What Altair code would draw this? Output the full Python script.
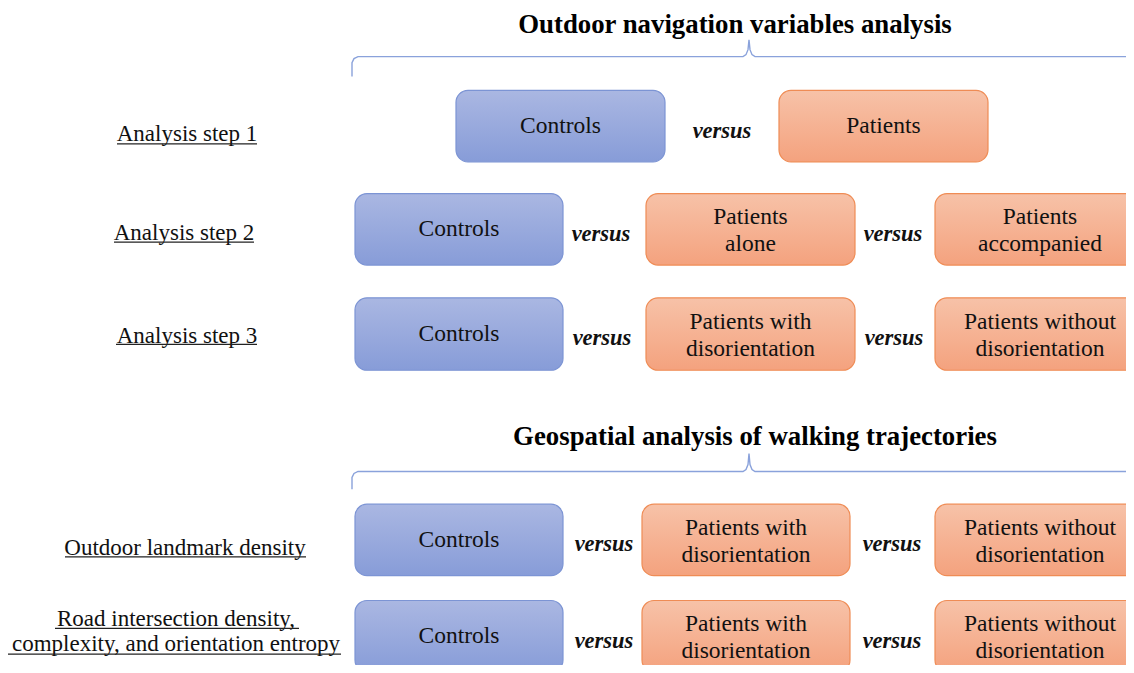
import altair as alt
import pandas as pd

# ---------------- content ----------------
section_titles = ["Outdoor navigation variables analysis",
                  "Geospatial analysis of walking trajectories"]
row_labels = ["Analysis step 1", "Analysis step 2", "Analysis step 3",
              "Outdoor landmark density",
              "Road intersection density,\ncomplexity, and orientation entropy"]
row_groups = [
    ["Controls", "Patients"],
    ["Controls", "Patients\nalone", "Patients\naccompanied"],
    ["Controls", "Patients with\ndisorientation", "Patients without\ndisorientation"],
    ["Controls", "Patients with\ndisorientation", "Patients without\ndisorientation"],
    ["Controls", "Patients with\ndisorientation", "Patients without\ndisorientation"],
]
connector = "versus"

# ---------------- layout (pixel grid of the figure) ----------------
title_pos = [(735, 25), (755, 440)]
brace_y = [57, 475]
brace_drop = [77, 493]
brace_tip = [40, 457]
brace_x = (352, 749, 1140)

row_box_y = [(91, 163), (195, 267), (300, 373), (508, 580), (605, 677)]
row_cols = [
    [(456, 665), (779, 988)],
    [(355, 563), (646, 855), (935, 1145)],
    [(355, 563), (646, 855), (935, 1145)],
    [(355, 563), (642, 850), (935, 1145)],
    [(355, 563), (642, 850), (935, 1145)],
]
row_versus_x = [[722], [601, 893], [602, 894], [604, 892], [604, 892]]
row_label_pos = [(187, 135), (184, 235), (187, 338), (185, 552), (176, 636.5)]
underlines = [(117, 257, 145), (114, 254, 244), (116, 257, 347),
              (65, 306, 561), (55, 299, 633), (8, 341, 659)]
BOX_LH = 27.5
LABEL_LH = 25

# ---------------- tables ----------------
boxes, box_lines = [], []
for r, (labels, cols, (y0, y1)) in enumerate(zip(row_groups, row_cols, row_box_y)):
    for c, (lab, (x0, x1)) in enumerate(zip(labels, cols)):
        xc, yc = (x0 + x1) / 2, (y0 + y1) / 2
        boxes.append(dict(row=r, col=c, x0=x0, x1=x1, y0=y0, y1=y1,
                          kind="control" if lab == "Controls" else "patient"))
        parts = lab.split("\n")
        n = len(parts)
        for i, p in enumerate(parts):
            box_lines.append(dict(x=xc, y=yc + (i - (n - 1) / 2) * BOX_LH + (1.5 if n > 1 else 0), text=p))
boxes = pd.DataFrame(boxes)
box_lines = pd.DataFrame(box_lines)

versus = []
for r, xs in enumerate(row_versus_x):
    y0, y1 = row_box_y[r]
    for x in xs:
        versus.append(dict(x=x, y=(y0 + y1) / 2 + 4.5, text=connector))
versus = pd.DataFrame(versus)

label_lines = []
for t, (x, y) in zip(row_labels, row_label_pos):
    parts = t.split("\n")
    n = len(parts)
    for i, p in enumerate(parts):
        label_lines.append(dict(x=x, y=y + (i - (n - 1) / 2) * LABEL_LH, text=p))
labels_df = pd.DataFrame(label_lines)
ul_df = pd.DataFrame([dict(x=a, x2=b, y=y) for a, b, y in underlines])
titles_df = pd.DataFrame([dict(x=p[0], y=p[1], text=t) for t, p in zip(section_titles, title_pos)])

brace_pts = []
for i in range(2):
    yh, yd, yt = brace_y[i], brace_drop[i], brace_tip[i]
    xl, xm, xr = brace_x
    pts = [(xl, yd), (xl, yh + 6), (xl + 2, yh + 2), (xl + 6, yh),
           (xm - 6, yh), (xm - 3, yh - 2), (xm - 1, yh - 7), (xm, yt),
           (xm + 1, yh - 7), (xm + 3, yh - 2), (xm + 6, yh), (xr, yh)]
    for k, (x, y) in enumerate(pts):
        brace_pts.append(dict(b=i, o=k, x=x, y=y))
brace_df = pd.DataFrame(brace_pts)

# ---------------- scales ----------------
W, H = 1118, 657
XS = alt.Scale(domain=[8, 8 + W], nice=False, zero=False)
YS = alt.Scale(domain=[8, 670], nice=False, zero=False, reverse=True)
FONT = "Liberation Serif"
TXT = "#111111"


def grad(top, bottom):
    return alt.Gradient(gradient="linear",
                        stops=[alt.GradientStop(color=top, offset=0),
                               alt.GradientStop(color=bottom, offset=1)],
                        x1=0, x2=0, y1=0, y2=1)


def xy(xf="x", yf="y"):
    return dict(x=alt.X(f"{xf}:Q", scale=XS, axis=None), y=alt.Y(f"{yf}:Q", scale=YS, axis=None))


base_box = alt.Chart(boxes)
blue = base_box.transform_filter(alt.datum.kind == "control").mark_rect(
    cornerRadius=12, fill=grad("#AAB7E2", "#879CD8"), stroke="#7C94D4", strokeWidth=1.2, clip=True
).encode(x2="x1:Q", y2="y1:Q", **xy("x0", "y0"))
orange = base_box.transform_filter(alt.datum.kind == "patient").mark_rect(
    cornerRadius=12, fill=grad("#F7C2A8", "#F4A27E"), stroke="#EF8C55", strokeWidth=1.2, clip=True
).encode(x2="x1:Q", y2="y1:Q", **xy("x0", "y0"))
box_text = alt.Chart(box_lines).mark_text(font=FONT, fontSize=23.5, baseline="middle", align="center",
                                          color=TXT).encode(text="text:N", **xy())

vs = alt.Chart(versus).mark_text(font=FONT, fontSize=22.5, fontWeight="bold", fontStyle="italic",
                                 baseline="middle", align="center", color=TXT).encode(text="text:N", **xy())

row_lab = alt.Chart(labels_df).mark_text(font=FONT, fontSize=23, baseline="middle", align="center",
                                         color=TXT).encode(text="text:N", **xy())

ul = alt.Chart(ul_df).mark_rule(color="#222222", strokeWidth=1.2).encode(x2="x2:Q", **xy())

titles = alt.Chart(titles_df).mark_text(font=FONT, fontSize=26.8, fontWeight="bold",
                                        baseline="middle", align="center", color="#000000").encode(
    text="text:N", **xy())

brace = alt.Chart(brace_df).mark_line(color="#8AA2DB", strokeWidth=1.4, clip=True).encode(
    detail="b:N", order="o:Q", **xy())

chart = alt.layer(brace, titles, blue, orange, box_text, vs, row_lab, ul).properties(
    width=W, height=H, autosize=alt.AutoSizeParams(type="none"), padding=0
).configure_view(strokeWidth=0)

chart.save("out.html", embed_options={"renderer": "svg", "actions": False})
